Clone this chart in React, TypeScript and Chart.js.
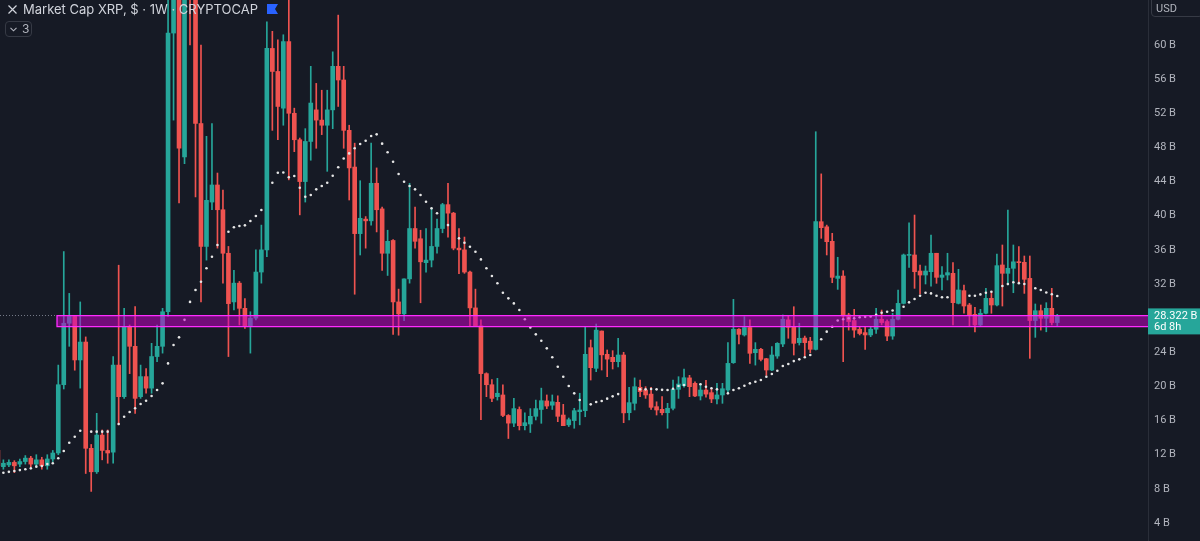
import React, { useEffect, useRef } from 'react';
import { Chart, registerables } from 'chart.js';

Chart.register(...registerables);

// ---- Data (weekly candles, values in billions USD) ----
const OPEN = [
  12.5, 10.6, 10.8, 11.1, 10.9, 11.2, 11.6, 10.9, 11.4, 10.7,
  11.5, 12.2, 20.2, 27.4, 28.2, 23.1, 25.2, 12.75, 10.0, 14.3,
  12.5, 12.3, 22.5, 18.8, 27.0, 24.7, 18.8, 21.15, 19.8, 23.5,
  24.7, 28.75, 61.4, 80, 46.9, 85, 68, 50.8, 36.4, 41.6,
  43.6, 40.7, 35.6, 29.9, 32.1, 29.15, 27.0, 28.0, 33.4, 36.0,
  59.6, 56.9, 52.6, 60.4, 52.0, 48.9, 44.0, 48.7, 52.4, 51.2,
  50.6, 52.4, 57.5, 55.9, 50.0, 45.7, 37.9, 39.6, 39.4, 43.8,
  40.8, 35.6, 37.1, 29.9, 28.5, 32.6, 38.5, 37.3, 34.5, 34.8,
  36.4, 38.5, 41.3, 40.3, 36.2, 36.0, 33.4, 29.2, 27.1, 21.5,
  20.2, 18.8, 19.0, 16.6, 15.7, 17.3, 15.4, 15.6, 16.5, 17.3,
  18.3, 17.8, 18.14, 16.65, 15.5, 16.0, 17.04, 17.16, 24.54, 22.12,
  26.49, 23.76, 23.41, 22.9, 23.68, 16.92, 18.02, 19.9, 19.58, 19.1,
  17.63, 17.32, 16.92, 17.44, 19.66, 20.08, 21.0, 20.36, 18.88, 19.58,
  19.27, 18.53, 19.0, 19.58, 22.78, 26.7, 26.03, 26.9, 23.95, 24.35,
  23.25, 21.92, 23.56, 24.97, 27.8, 26.93, 25.13, 25.67, 25.3, 24.35,
  39.3, 38.7, 37.0, 32.66, 32.93, 28.37, 27.72, 26.7, 26.3, 26.03,
  26.7, 27.87, 27.6, 25.9, 27.87, 29.73, 35.35, 35.4, 33.52, 33.05,
  33.44, 35.6, 32.78, 33.05, 33.25, 29.73, 31.22, 29.54, 28.45, 27.2,
  28.57, 30.32, 29.54, 34.23, 33.25, 33.84, 34.6, 34.54, 32.66, 27.72,
  28.87, 27.98, 29.15, 27.48,
];

const HIGH = [
  12.8, 11.4, 11.4, 11.3, 11.5, 11.9, 11.8, 12.0, 11.7, 12.0,
  12.5, 22.5, 35.8, 30.9, 28.3, 29.9, 25.8, 13.2, 16.85, 14.9,
  14.9, 23.5, 34.2, 29.15, 27.2, 29.35, 22.5, 22.1, 25.05, 27.2,
  29.15, 66, 80, 85, 85, 90, 70, 60.0, 49.3, 50.8,
  45.0, 43.0, 36.4, 33.6, 32.3, 30.3, 28.75, 36.0, 38.9, 62.7,
  61.6, 60.6, 61.2, 65.5, 52.6, 49.1, 50.2, 57.5, 55.5, 54.7,
  54.7, 59.2, 63.5, 57.5, 50.6, 48.5, 44.1, 39.9, 48.5, 45.6,
  41.0, 38.3, 37.2, 31.4, 32.6, 43.8, 41.0, 38.3, 38.5, 40.9,
  39.6, 41.45, 43.8, 40.4, 38.5, 37.5, 33.5, 31.4, 27.8, 21.6,
  20.8, 20.95, 20.2, 16.7, 18.6, 17.6, 16.9, 17.4, 18.4, 19.8,
  19.0, 19.0, 18.9, 17.9, 16.3, 17.44, 19.2, 27.0, 25.44, 27.31,
  26.5, 24.27, 24.19, 25.64, 24.0, 19.9, 21.0, 20.75, 19.97, 19.9,
  18.2, 18.8, 18.02, 20.75, 21.14, 22.04, 21.3, 20.55, 20.36, 20.7,
  19.66, 20.36, 20.36, 25.13, 30.2, 26.78, 28.18, 27.8, 25.13, 24.46,
  23.29, 24.66, 25.13, 28.37, 28.25, 29.34, 27.4, 25.9, 25.75, 49.84,
  44.9, 38.9, 37.94, 35.13, 33.56, 28.57, 29.03, 27.0, 27.0, 27.0,
  29.15, 28.95, 27.8, 28.57, 31.3, 35.51, 39.18, 40.08, 34.23, 34.11,
  37.74, 35.6, 34.03, 35.6, 34.5, 33.72, 31.88, 29.73, 29.27, 29.03,
  31.49, 31.1, 35.51, 36.57, 40.67, 36.57, 36.37, 35.28, 35.28, 29.66,
  29.54, 29.81, 31.49, 28.45,
];

const LOW = [
  10.4, 10.3, 10.6, 9.9, 10.6, 10.9, 10.6, 10.6, 10.3, 10.3,
  11.2, 12.0, 19.7, 24.7, 21.9, 19.8, 9.8, 7.7, 9.8, 11.4,
  11.0, 11.0, 15.5, 18.6, 21.5, 16.85, 18.6, 19.2, 19.2, 22.9,
  23.9, 28.2, 51.2, 41.5, 46.1, 60.0, 42.2, 29.9, 34.8, 40.7,
  36.2, 32.1, 23.5, 28.95, 27.2, 26.8, 23.9, 27.8, 32.1, 35.2,
  50.0, 48.9, 50.6, 44.2, 47.5, 40.1, 41.6, 46.5, 47.9, 49.5,
  45.2, 50.2, 52.8, 47.9, 41.84, 30.8, 35.4, 36.2, 38.9, 38.1,
  33.6, 33.0, 26.1, 26.0, 27.7, 32.1, 36.2, 29.8, 33.4, 34.0,
  35.6, 38.0, 37.5, 36.0, 33.2, 33.25, 27.1, 27.0, 16.1, 18.8,
  18.2, 18.4, 16.45, 13.9, 15.3, 14.9, 14.9, 14.6, 16.07, 15.68,
  17.4, 17.3, 15.87, 15.4, 15.3, 15.1, 15.5, 16.45, 20.75, 21.73,
  21.92, 21.14, 22.04, 22.3, 15.75, 16.07, 17.24, 18.8, 18.6, 17.32,
  16.65, 16.65, 15.1, 17.24, 18.6, 19.9, 18.8, 18.8, 18.41, 18.73,
  18.1, 17.94, 18.02, 19.2, 22.7, 24.97, 25.9, 22.7, 22.5, 23.0,
  21.3, 21.84, 23.29, 24.66, 25.64, 23.68, 24.85, 23.56, 23.95, 24.27,
  37.35, 35.4, 32.15, 31.37, 22.9, 26.6, 25.75, 26.03, 24.35, 25.83,
  26.2, 27.2, 25.36, 25.52, 27.8, 29.66, 33.95, 31.49, 30.83, 32.0,
  31.76, 32.08, 31.3, 32.47, 27.2, 29.66, 28.57, 27.0, 26.4, 27.1,
  28.49, 28.57, 29.42, 29.42, 31.88, 30.98, 32.27, 30.9, 23.29, 25.75,
  26.6, 26.4, 27.2, 27.0,
];

const CLOSE = [
  10.7, 11.0, 11.1, 10.7, 11.2, 11.6, 10.9, 11.4, 10.7, 11.5,
  12.2, 20.2, 27.4, 28.2, 23.1, 25.2, 12.75, 10.0, 14.3, 12.5,
  12.2, 22.5, 18.8, 27.0, 24.7, 18.6, 21.15, 19.8, 23.5, 24.7,
  28.75, 61.4, 70, 47.9, 75, 68, 50.8, 36.4, 41.8, 43.6,
  40.7, 35.6, 29.7, 32.1, 29.15, 27.0, 28.0, 33.4, 36.0, 59.6,
  56.9, 52.8, 60.4, 52.0, 48.9, 44.0, 48.7, 53.2, 51.2, 50.6,
  52.4, 57.5, 55.9, 50.0, 45.6, 37.9, 39.7, 39.4, 43.8, 40.7,
  35.6, 37.0, 29.9, 28.5, 32.6, 38.5, 37.0, 34.6, 34.8, 36.4,
  38.5, 41.3, 40.3, 36.2, 36.0, 33.4, 29.2, 27.1, 21.5, 20.2,
  18.6, 19.2, 16.6, 15.7, 17.4, 15.4, 15.75, 16.5, 17.4, 18.33,
  17.7, 18.2, 16.5, 15.4, 16.1, 17.16, 17.24, 23.76, 22.2, 26.6,
  23.7, 23.2, 22.9, 23.68, 16.9, 18.1, 19.97, 19.39, 19.0, 17.55,
  17.24, 16.92, 17.44, 19.66, 20.28, 21.02, 19.97, 18.88, 19.58, 19.1,
  18.53, 19.0, 19.73, 22.7, 26.7, 26.1, 26.9, 23.88, 24.35, 23.17,
  21.92, 23.68, 25.05, 27.87, 26.93, 25.05, 25.64, 25.13, 24.35, 39.3,
  38.6, 36.96, 32.78, 32.93, 28.25, 27.6, 26.6, 26.2, 26.03, 26.7,
  27.87, 27.48, 25.9, 27.87, 29.73, 35.4, 35.45, 33.44, 33.05, 33.52,
  35.6, 32.78, 33.05, 33.33, 29.81, 31.3, 29.42, 28.37, 27.2, 28.57,
  30.32, 29.54, 34.15, 33.25, 33.84, 34.6, 34.5, 32.55, 27.72, 28.87,
  27.98, 29.15, 27.48, 28.322,
];

// Parabolic SAR-style dots (null = not visible)
const SAR: (number | null)[] = [
  null, 9.89, 9.99, 10.1, 10.2, 10.29, 10.4, 10.6, 10.67, 10.9,
  11.0, 11.58, 12.44, 13.4, 14.1, 14.8, null, 14.7, 14.7, 14.7,
  14.7, null, 15.6, 16.45, 17.0, 17.44, 17.94, 18.33, 18.88, 19.58,
  20.36, 22.7, 24.85, 25.75, 27.8, 29.9, 31.3, 32.27, 33.84, 35.2,
  36.57, null, 38.13, 38.64, 38.79, 38.87, 39.38, 39.97, 40.67, null,
  43.87, 45.04, 45.06, 44.5, 44.65, 43.28, 42.23, 42.43, 43.09, 43.48,
  43.87, 44.69, 45.67, 46.7, 47.3, 47.9, 48.4, 48.79, 49.34, 49.53,
  48.44, 47.43, 46.33, 44.88, 43.98, 43.48, 43.09, 42.43, 41.64, 40.86,
  40.28, null, 38.9, null, 37.35, 36.84, 36.37, 35.78, 34.88, 33.84,
  32.93, 32.08, 30.98, 30.32, 29.73, 28.95, 27.87, 26.9, 26.1, 25.36,
  24.46, 23.41, 22.3, 21.14, 20.05, 19.19, 18.41, null, 17.9, 18.18,
  18.3, 18.57, 18.84, 19.1, null, null, null, 19.66, 19.66, 19.7,
  19.66, 19.6, 19.58, 19.73, 20.05, 20.17, null, null, 20.25, 19.97,
  19.78, 19.66, null, 19.19, 19.58, 19.78, 20.08, 20.36, 20.55, 20.75,
  21.14, 21.45, 21.84, 22.39, 22.63, 22.97, 23.17, 23.41, 23.68, null,
  25.52, 26.42, 27.0, 27.72, 27.87, 27.98, 27.98, 28.1, 28.15, 28.2,
  28.4, 28.64, 28.75, 28.9, null, 29.34, 29.85, 30.24, 30.63, 30.98,
  30.9, 30.63, 30.44, 30.44, null, null, null, 30.63, 30.63, 30.78,
  30.98, 31.1, null, 31.76, 32.0, 32.2, 32.1, 32.0, null, 31.5,
  31.3, 31.0, 30.8, 30.6,
];

const Y_TICKS = [4, 8, 12, 16, 20, 24, 28, 32, 36, 40, 44, 48, 52, 56, 60];
const LAST_PRICE = 28.322;
const LAST_PRICE_LABEL = '28.322 B';
const COUNTDOWN_LABEL = '6d 8h';
const BAND_LOW = 27.0;
const BAND_HIGH = 28.3;
const BAND_START_INDEX = 10.77;
const X_MIN = 0.3826;
const X_MAX = 209.53;
const Y_MIN = 1.891;
const Y_MAX = 65.272;

const TITLE = 'Market Cap XRP, $ · 1W · CRYPTOCAP';
const INDICATOR_COUNT = '3';
const CURRENCY = 'USD';

const BG = '#161a25';
const UP = '#26a69a';
const DOWN = '#ef5350';
const TEXT = '#d1d4dc';
const AXIS_TEXT = '#b2b5be';
const FONT = 'Inter, Roboto, "Noto Sans", sans-serif';
const AXIS_FONT = 'Roboto, Inter, "Noto Sans", sans-serif';

export default function App() {
  const ref = useRef<HTMLCanvasElement>(null);

  useEffect(() => {
    document.body.style.margin = '0';
    document.body.style.background = BG;
    const idx = OPEN.map((_, i) => i);
    const colors = idx.map((i) => (CLOSE[i] >= OPEN[i] ? UP : DOWN));

    const overlay = {
      id: 'overlay',
      beforeDatasetsDraw(chart: any) {
        const { ctx, chartArea, scales } = chart;
        const y = scales.y.getPixelForValue(LAST_PRICE);
        ctx.save();
        ctx.strokeStyle = 'rgba(140,145,160,0.8)';
        ctx.lineWidth = 1;
        ctx.setLineDash([1, 2]);
        ctx.beginPath();
        ctx.moveTo(chartArea.left, Math.round(y) + 0.5);
        ctx.lineTo(chartArea.right, Math.round(y) + 0.5);
        ctx.stroke();
        ctx.restore();
      },
      afterDatasetsDraw(chart: any) {
        const { ctx, chartArea, scales } = chart;
        const x0 = scales.x.getPixelForValue(BAND_START_INDEX);
        const yTop = scales.y.getPixelForValue(BAND_HIGH);
        const yBot = scales.y.getPixelForValue(BAND_LOW);
        ctx.save();
        ctx.fillStyle = 'rgba(200, 0, 200, 0.52)';
        ctx.fillRect(x0, yTop, chartArea.right - x0, yBot - yTop);
        ctx.strokeStyle = '#ff2cff';
        ctx.lineWidth = 1.3;
        ctx.beginPath();
        ctx.moveTo(chartArea.right, yTop);
        ctx.lineTo(x0, yTop);
        ctx.lineTo(x0, yBot);
        ctx.lineTo(chartArea.right, yBot);
        ctx.stroke();
        ctx.restore();
      },
      afterDraw(chart: any) {
        const { ctx, chartArea, scales, width } = chart;
        const y = scales.y.getPixelForValue(LAST_PRICE);
        ctx.save();
        ctx.fillStyle = UP;
        ctx.fillRect(chartArea.right, y - 7, width - chartArea.right, 26);
        ctx.fillStyle = '#ffffff';
        ctx.font = `11px ${AXIS_FONT}`;
        ctx.textBaseline = 'middle';
        ctx.textAlign = 'left';
        ctx.fillText(LAST_PRICE_LABEL, chartArea.right + 6, y + 0.5);
        ctx.fillText(COUNTDOWN_LABEL, chartArea.right + 6, y + 12);
        ctx.restore();
      },
    };

    const chart = new Chart(ref.current as HTMLCanvasElement, {
      type: 'bar',
      data: {
        datasets: [
          {
            type: 'line',
            data: idx.map((i) => ({ x: i, y: SAR[i] })) as any,
            showLine: false,
            pointRadius: 1.3,
            pointBackgroundColor: '#e6e6e6',
            pointBorderWidth: 0,
            order: 0,
          } as any,
          {
            type: 'bar',
            data: idx.map((i) => ({ x: i, y: [OPEN[i], CLOSE[i]] })) as any,
            backgroundColor: colors,
            barThickness: 4,
            minBarLength: 1,
            grouped: false,
            borderWidth: 0,
            order: 1,
          } as any,
          {
            type: 'bar',
            data: idx.map((i) => ({ x: i, y: [LOW[i], HIGH[i]] })) as any,
            backgroundColor: colors,
            barThickness: 1,
            grouped: false,
            borderWidth: 0,
            order: 2,
          } as any,
        ],
      },
      options: {
        responsive: false,
        animation: false,
        devicePixelRatio: 1,
        events: [],
        layout: { padding: 0, autoPadding: false },
        plugins: { legend: { display: false }, tooltip: { enabled: false } },
        scales: {
          x: { type: 'linear', min: X_MIN, max: X_MAX, display: false, offset: false },
          y: {
            type: 'linear',
            position: 'right',
            min: Y_MIN,
            max: Y_MAX,
            afterBuildTicks: (s: any) => {
              s.ticks = Y_TICKS.map((v) => ({ value: v }));
            },
            afterFit: (s: any) => {
              s.width = 52;
              s.paddingTop = 0;
              s.paddingBottom = 0;
            },
            grid: { display: false, drawTicks: false },
            border: { display: true, color: '#2a2e39', width: 1 },
            ticks: {
              color: AXIS_TEXT,
              font: { family: AXIS_FONT, size: 11 },
              padding: 6,
              crossAlign: 'near',
              callback: (v: any) => `${v} B`,
            },
          },
        } as any,
      },
      plugins: [overlay],
    });
    return () => chart.destroy();
  }, []);

  return (
    <div style={{ position: 'relative', width: 1200, height: 541, background: BG, overflow: 'hidden', fontFamily: FONT }}>
      <canvas ref={ref} width={1200} height={541} style={{ position: 'absolute', left: 0, top: 0, width: 1200, height: 541 }} />
      <svg style={{ position: 'absolute', left: 8, top: 5 }} width={9} height={9}>
        <path d="M0.5 0.5L8.5 8.5M8.5 0.5L0.5 8.5" stroke={TEXT} strokeWidth={1.2} />
      </svg>
      <div style={{ position: 'absolute', left: 23, top: 0, height: 18, lineHeight: '18px', fontSize: 13, color: TEXT, whiteSpace: 'nowrap' }}>
        {TITLE}
      </div>
      <svg style={{ position: 'absolute', left: 267, top: 4 }} width={11} height={10}>
        <path d="M0 0H11L8 5L11 10H0Z" fill="#2962ff" />
      </svg>
      <div style={{ position: 'absolute', left: 5, top: 21, width: 25, height: 14, border: '1px solid #363a45', borderRadius: 4 }}>
        <svg style={{ position: 'absolute', left: 4, top: 5 }} width={7} height={5}>
          <polyline points="0.5,0.8 3.5,3.8 6.5,0.8" fill="none" stroke={AXIS_TEXT} strokeWidth={1.1} />
        </svg>
        <span style={{ position: 'absolute', left: 16, top: 0, lineHeight: '14px', fontSize: 12, color: AXIS_TEXT }}>{INDICATOR_COUNT}</span>
      </div>
      <div style={{ position: 'absolute', left: 1151, top: -4, width: 52, height: 21, border: '1px solid #363a45', borderRadius: 4, boxSizing: 'border-box' }}>
        <span style={{ position: 'absolute', left: 4, top: 5, lineHeight: '13px', fontSize: 11, color: AXIS_TEXT, fontFamily: AXIS_FONT }}>{CURRENCY}</span>
      </div>
    </div>
  );
}
